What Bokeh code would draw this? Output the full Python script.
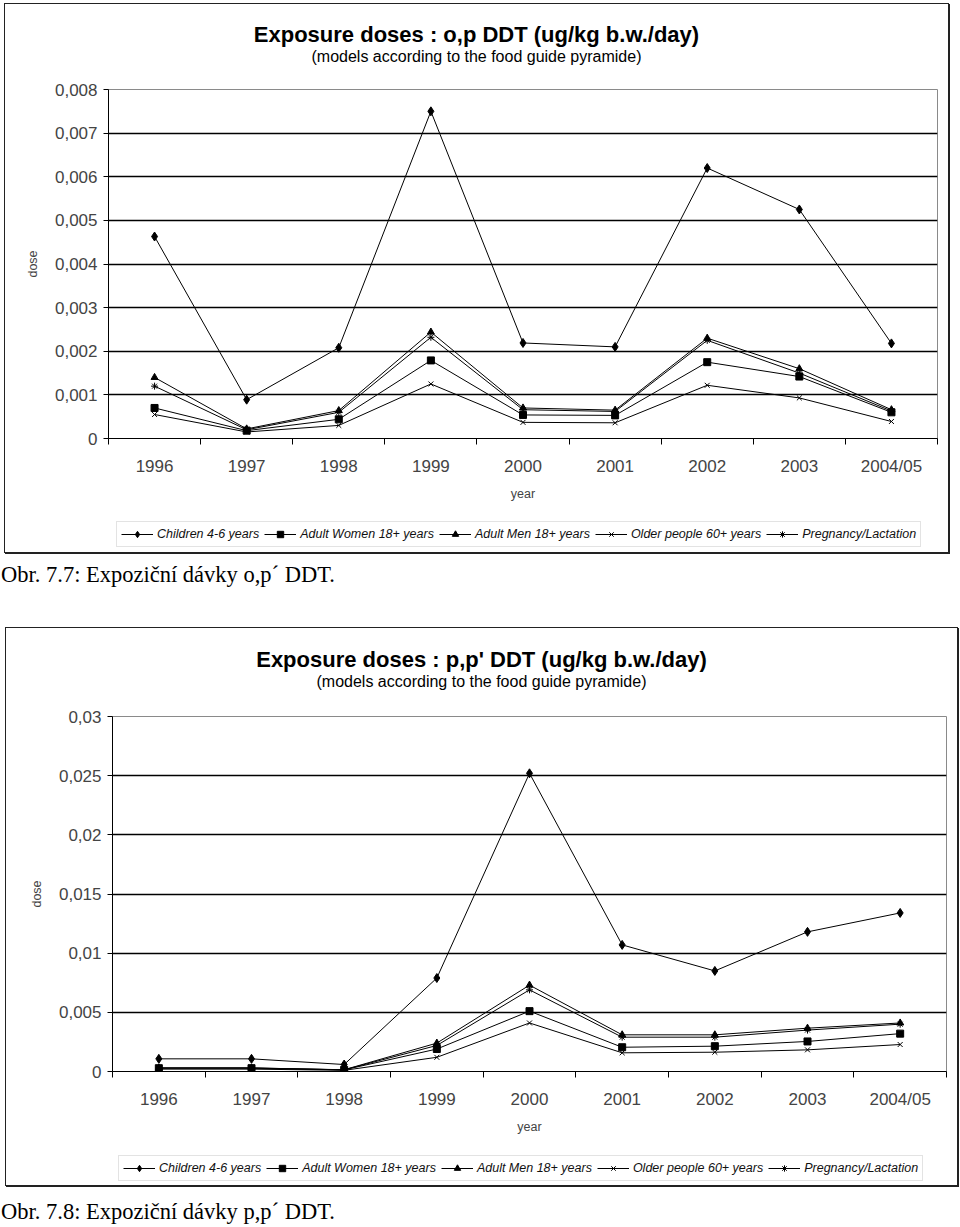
from bokeh.plotting import figure
from bokeh.models import (FixedTicker, Legend, LegendItem, Div, Range1d,
                          CustomJSTickFormatter)
from bokeh.layouts import column
from bokeh.embed import file_html
from bokeh.resources import INLINE

years = ["1996", "1997", "1998", "1999", "2000", "2001", "2002", "2003", "2004/05"]
series_names = ["Children 4-6 years", "Adult Women 18+ years", "Adult Men 18+ years",
                "Older people 60+ years", "Pregnancy/Lactation"]
markers = ["diamond", "square", "triangle", "x", "asterisk"]

# o,p DDT
op_children = [0.00463, 0.00089, 0.00208, 0.0075, 0.00219, 0.0021, 0.0062, 0.00525, 0.00218]
op_women = [0.0007, 0.00018, 0.00044, 0.00179, 0.00054, 0.00053, 0.00175, 0.00142, 0.0006]
op_men = [0.0014, 0.00022, 0.00064, 0.00244, 0.0007, 0.00065, 0.0023, 0.0016, 0.00066]
op_older = [0.00055, 0.00015, 0.0003, 0.00125, 0.00037, 0.00036, 0.00122, 0.00093, 0.00039]
op_preg = [0.0012, 0.0002, 0.0006, 0.00232, 0.00066, 0.00062, 0.00225, 0.0015, 0.00063]
op_yticks = [0, 0.001, 0.002, 0.003, 0.004, 0.005, 0.006, 0.007, 0.008]

# p,p' DDT
pp_children = [0.00107, 0.00107, 0.00059, 0.0079, 0.0252, 0.0107, 0.0085, 0.0118, 0.0134]
pp_women = [0.00028, 0.00028, 0.00014, 0.0019, 0.0051, 0.00205, 0.00214, 0.00254, 0.0032]
pp_men = [0.0003, 0.0003, 0.00015, 0.0024, 0.0073, 0.0031, 0.0031, 0.00366, 0.0041]
pp_older = [0.0002, 0.0002, 0.0001, 0.0012, 0.0041, 0.00158, 0.00163, 0.00183, 0.00228]
pp_preg = [0.0003, 0.0003, 0.00014, 0.0022, 0.0069, 0.0029, 0.0029, 0.0035, 0.0040]
pp_yticks = [0, 0.005, 0.01, 0.015, 0.02, 0.025, 0.03]

FONT = "Liberation Sans"
SUBTITLE = "(models according to the food guide pyramide)"


def title_block(title, width, height, pad_top):
    html = (f"<div style=\"width:{width}px;text-align:center;font-family:'{FONT}',Arial,sans-serif;"
            f"color:#000;padding-top:{pad_top}px;\">"
            f"<div style=\"font-size:22px;font-weight:bold;line-height:24px;white-space:nowrap;\">{title}</div>"
            f"<div style=\"font-size:16px;line-height:18px;margin-top:1px;white-space:nowrap;\">{SUBTITLE}</div>"
            f"</div>")
    return Div(text=html, width=width, height=height, margin=(0, 0, 0, 0),
               styles={"background-color": "white"})


def chart_fig(series, yticks, width, height, mbl, mbr, mbt, mbb):
    n = len(years)
    xs = [i + 0.5 for i in range(n)]
    p = figure(width=width, height=height, x_range=Range1d(0, n),
               y_range=Range1d(yticks[0], yticks[-1]), output_backend="svg",
               toolbar_location=None, min_border_left=mbl, min_border_right=mbr,
               min_border_top=mbt, min_border_bottom=mbb)
    p.background_fill_color = "white"
    p.border_fill_color = "white"
    p.outline_line_color = "#8a8a8a"
    p.outline_line_width = 1

    xa = p.xaxis[0]
    xa.ticker = FixedTicker(ticks=xs, minor_ticks=list(range(n + 1)))
    xa.major_label_overrides = {x: y for x, y in zip(xs, years)}
    xa.major_tick_out = 0
    xa.major_tick_in = 0
    xa.minor_tick_out = 6
    xa.minor_tick_in = 0
    xa.minor_tick_line_color = "black"
    xa.axis_line_color = "black"
    xa.major_label_text_font = FONT
    xa.major_label_text_font_size = "17px"
    xa.major_label_standoff = 12
    xa.axis_label = "year"
    xa.axis_label_text_font = FONT
    xa.axis_label_text_font_size = "12.5px"
    xa.axis_label_text_font_style = "normal"
    xa.axis_label_standoff = 8

    ya = p.yaxis[0]
    ya.ticker = FixedTicker(ticks=yticks, minor_ticks=[])
    ya.formatter = CustomJSTickFormatter(
        code="return String(Number(tick.toFixed(6))).replace('.', ',');")
    ya.major_tick_out = 5
    ya.major_tick_in = 0
    ya.axis_line_color = "black"
    ya.major_label_text_font = FONT
    ya.major_label_text_font_size = "17px"
    ya.major_label_standoff = 6
    ya.axis_label = "dose"
    ya.axis_label_text_font = FONT
    ya.axis_label_text_font_size = "12.5px"
    ya.axis_label_text_font_style = "normal"
    ya.axis_label_standoff = 12

    p.xgrid.visible = False
    p.ygrid.grid_line_color = "black"
    p.ygrid.grid_line_width = 1.5

    for vals, mk in zip(series, markers):
        p.line(xs, vals, line_color="black", line_width=1)
        size = 9 if mk == "diamond" else 7
        p.scatter(xs, vals, marker=mk, size=size, line_color="black",
                  fill_color="black", line_width=1)
    return p


def legend_fig(series, width, height, loc):
    # Legend strip of the chart; its renderers carry the series but the
    # view range is set away from them so only the legend samples show.
    n = len(years)
    xs = [i + 0.5 for i in range(n)]
    p = figure(width=width, height=height, x_range=Range1d(-3, -2), y_range=Range1d(0, 1),
               x_axis_type=None, y_axis_type=None, output_backend="svg",
               toolbar_location=None, min_border=0)
    p.outline_line_color = None
    p.background_fill_color = "white"
    p.border_fill_color = "white"
    items = []
    for name, vals, mk in zip(series_names, series, markers):
        lr = p.line(xs, vals, line_color="black", line_width=1)
        mr = p.scatter(xs, vals, marker=mk, line_color="black", fill_color="black",
                       line_width=1)
        items.append(LegendItem(label=name, renderers=[lr, mr]))
    lg = Legend(items=items, orientation="horizontal", location=loc, margin=0,
                label_text_font=FONT, label_text_font_size="12.5px",
                label_text_font_style="italic", label_text_color="#111",
                glyph_width=32, glyph_height=16, label_standoff=4, spacing=5,
                padding=4, border_line_color="#c8c8c8", border_line_width=1,
                background_fill_color="white", background_fill_alpha=1)
    p.add_layout(lg)
    return p


SHADOW = {"box-shadow": "0 0 0 1px #222, 1px 1px 0 1px #222", "background-color": "white"}

op_series = [op_children, op_women, op_men, op_older, op_preg]
pp_series = [pp_children, pp_women, pp_men, pp_older, pp_preg]

# chart 1 group: page x 5..948, y 4..552
t1 = title_block("Exposure doses : o,p DDT (ug/kg b.w./day)", 943, 66, 19)
f1 = chart_fig(op_series, op_yticks, 943, 438, 103, 11, 19, 70)
l1 = legend_fig(op_series, 943, 44, (8, 5))
g1 = column(t1, f1, l1, spacing=0, margin=(4, 0, 0, 5), styles=SHADOW)

cap_style = ("font-family:'Liberation Serif','Times New Roman',serif;font-size:22.5px;"
             "line-height:24px;color:#000;white-space:nowrap;padding-left:1px;")
cap1 = Div(text=f"<div style=\"{cap_style}margin-top:11px;\">Obr. 7.7: Expoziční dávky o,p´ DDT.</div>",
           width=944, height=76, margin=(0, 0, 0, 0))

# chart 2 group: page x 6..957, y 628..1185
t2 = title_block("Exposure doses : p,p' DDT (ug/kg b.w./day)", 951, 68, 20)
f2 = chart_fig(pp_series, pp_yticks, 951, 444, 106, 11, 20, 69)
l2 = legend_fig(pp_series, 951, 45, (6, 4))
g2 = column(t2, f2, l2, spacing=0, margin=(0, 0, 0, 6), styles=SHADOW)

cap2 = Div(text=f"<div style=\"{cap_style}margin-top:15px;\">Obr. 7.8: Expoziční dávky p,p´ DDT.</div>",
           width=944, height=41, margin=(0, 0, 0, 0))

layout = column(g1, cap1, g2, cap2, spacing=0)
open("out.html", "w").write(file_html(layout, INLINE))
